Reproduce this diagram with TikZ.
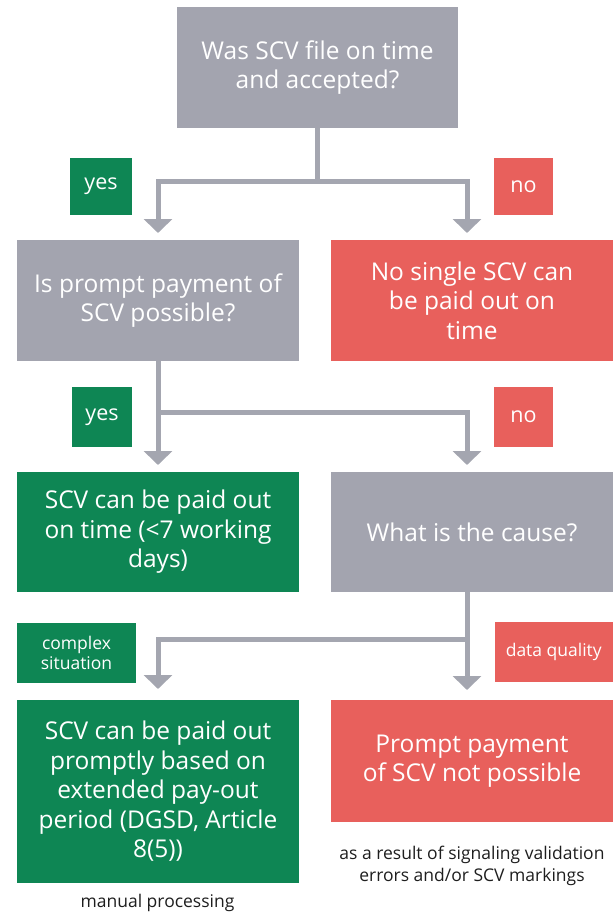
\documentclass[tikz,border=0pt]{standalone}
\usepackage{fontspec}
\setmainfont{Open Sans}
\usetikzlibrary{arrows.meta}
\definecolor{boxgrey}{HTML}{A3A4AF}
\definecolor{linegrey}{HTML}{A4A6B0}
\definecolor{okgreen}{HTML}{0E8654}
\definecolor{nored}{HTML}{E8605C}
\definecolor{notetext}{HTML}{1E1E1E}
\begin{document}
\begin{tikzpicture}[x=1pt,y=-1pt,
  box/.style={minimum width=281pt, minimum height=120pt, inner sep=0pt, align=center,
    text=white, font=\fontsize{24.5}{29.5}\selectfont},
  greybox/.style={box, fill=boxgrey},
  greenbox/.style={box, fill=okgreen},
  redbox/.style={box, fill=nored},
  tag/.style={inner sep=0pt, align=center, text=white, font=\fontsize{21.5}{24}\selectfont},
  smalltag/.style={tag, font=\fontsize{17.5}{20.5}\selectfont},
  note/.style={inner sep=0pt, align=center, text=notetext, font=\fontsize{17.5}{21.5}\selectfont},
  conn/.style={draw=linegrey, line width=5pt, line join=miter},
  arr/.style={conn, -{Triangle[width=28pt,length=14pt]}}
]
\useasboundingbox (0,0) rectangle (613,912);

% boxes
\node[greybox, minimum height=121pt] (q1) at (317.5,67.5) {Was SCV file on time\\and accepted?};
\node[greybox, minimum width=282pt, minimum height=121pt] (q2) at (158,300.5) {Is prompt payment of\\SCV possible?};
\node[redbox, minimum width=282pt, minimum height=121pt] (r1) at (472,300.5) {No single SCV can\\be paid out on\\time};
\node[greenbox, minimum width=282pt] (g1) at (158,532) {SCV can be paid out\\on time (<7 working\\days)};
\node[greybox, minimum width=282pt] (q3) at (472,532) {What is the cause?};
\node[greenbox, minimum width=282pt, minimum height=183pt] (g2) at (158,791.5) {SCV can be paid out\\promptly based on\\extended pay-out\\period (DGSD, Article\\8(5))};
\node[redbox, minimum width=282pt, minimum height=122pt] (r2) at (472,761) {Prompt payment\\of SCV not possible};

% tags
\node[tag, fill=okgreen, minimum width=62pt, minimum height=57pt] (y1) at (101,186.5) {yes};
\node[tag, fill=nored, minimum width=59pt, minimum height=57pt] (n1) at (523.5,186.5) {no};
\node[tag, fill=okgreen, minimum width=60pt, minimum height=60pt] (y2) at (102,417) {yes};
\node[tag, fill=nored, minimum width=59pt, minimum height=60pt] (n2) at (523.5,417) {no};
\node[smalltag, fill=okgreen, minimum width=119pt, minimum height=60pt] (c1) at (76.5,653) {complex\\situation};
\node[smalltag, fill=nored, minimum width=118.5pt, minimum height=60pt] (d1) at (553.75,652) {data quality};

% notes
\node[note] (m1) at (472,866) {as a result of signaling validation\\errors and/or SCV markings};
\node[note] (m2) at (157.5,903) {manual processing};

% connector 1
\coordinate (j1) at (317.5,182);
\coordinate (a1) at (158,182);
\coordinate (b1) at (467,182);
\coordinate (ta1) at (158,233);
\coordinate (tb1) at (467,233);
\draw[conn] (q1.south) -- (j1);
\draw[arr] (j1) -- (a1) -- (ta1);
\draw[arr] (j1) -- (b1) -- (tb1);

% connector 2
\coordinate (j2) at (158,412);
\coordinate (b2) at (467,412);
\coordinate (ta2) at (158,465);
\coordinate (tb2) at (467,465);
\draw[arr] (q2.south) -- (ta2);
\draw[arr] (j2) -- (b2) -- (tb2);

% connector 3
\coordinate (j3) at (467,639);
\coordinate (a3) at (158,639);
\coordinate (ta3) at (158,689);
\coordinate (tb3) at (467,690);
\draw[arr] (q3.south -| j3) -- (tb3);
\draw[arr] (j3) -- (a3) -- (ta3);
\end{tikzpicture}
\end{document}
